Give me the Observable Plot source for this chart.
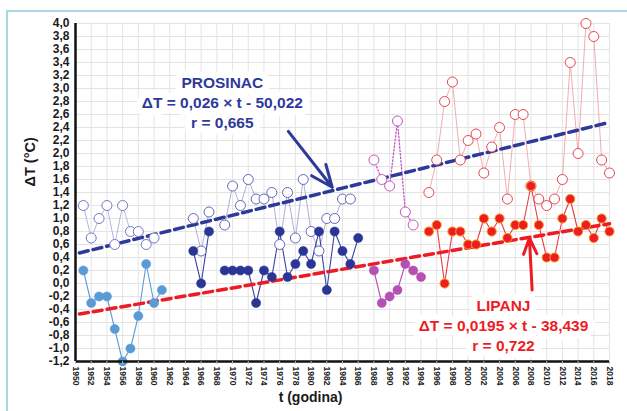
<!DOCTYPE html>
<html><head><meta charset="utf-8">
<script src="https://cdn.jsdelivr.net/npm/d3@7"></script>
<script src="https://cdn.jsdelivr.net/npm/@observablehq/plot@0.6"></script>
<style>
body{margin:0;background:#fff;}
#wrap{position:relative;width:627px;height:411px;overflow:hidden;background:#fff;}
#frame{position:absolute;left:6px;top:10px;right:-4px;bottom:-4px;border-top:2px solid #a9d8e3;border-left:2px solid #a9d8e3;}
#chart{position:absolute;left:0;top:0;}
</style></head>
<body><div id="wrap"><div id="frame"></div><div id="chart"></div></div>
<script>
// ---- data ----
const years = [1951,1952,1953,1954,1955,1956,1957,1958,1959,1960,1961,
  1965,1966,1967,
  1969,1970,1971,1972,1973,1974,1975,1976,1977,1978,1979,1980,1981,1982,1983,1984,1985,1986,
  1988,1989,1990,1991,1992,1993,1994,
  1995,1996,1997,1998,1999,2000,2001,2002,2003,2004,2005,2006,2007,2008,2009,2010,2011,2012,2013,2014,2015,2016,2017,2018];
// LIPANJ (June) – filled markers
const june = [0.2,-0.3,-0.2,-0.2,-0.7,-1.2,-1.0,-0.5,0.3,-0.3,-0.1,
  0.5,0.0,0.8,
  0.2,0.2,0.2,0.2,-0.3,0.2,0.1,0.8,0.1,0.3,0.5,0.3,0.8,-0.1,0.8,0.5,0.3,0.7,
  0.2,-0.3,-0.2,-0.1,0.3,0.2,0.1,
  0.8,0.9,0.0,0.8,0.8,0.6,0.6,1.0,0.8,1.0,0.7,0.9,0.9,1.5,0.9,0.4,0.4,1.0,1.3,0.8,0.9,0.7,1.0,0.8];
// PROSINAC (December) – open markers
const december = [1.2,0.7,1.0,1.2,0.6,1.2,0.8,0.8,0.6,0.7,null,
  1.0,0.5,1.1,
  0.9,1.5,1.2,1.6,1.3,1.3,1.4,0.6,1.4,0.7,1.6,0.8,0.5,1.0,1.0,1.3,1.3,null,
  1.9,1.6,1.5,2.5,1.1,0.9,null,
  1.4,1.9,2.8,3.1,1.9,2.2,2.3,1.7,2.1,2.4,1.3,2.6,2.6,1.5,1.3,1.2,1.3,1.6,3.4,2.0,4.0,3.8,1.9,1.7];
// trend lines (end points as drawn)
const trendYears = [1950.5, 2018];
const decemberTrend = [0.47, 2.48];
const juneTrend = [-0.47, 0.92];
// ticks
const xTicks = [1950,1952,1954,1956,1958,1960,1962,1964,1966,1968,1970,1972,1974,1976,1978,1980,1982,1984,1986,1988,1990,1992,1994,1996,1998,2000,2002,2004,2006,2008,2010,2012,2014,2016,2018];
const yTicks = [-1.2,-1.0,-0.8,-0.6,-0.4,-0.2,0.0,0.2,0.4,0.6,0.8,1.0,1.2,1.4,1.6,1.8,2.0,2.2,2.4,2.6,2.8,3.0,3.2,3.4,3.6,3.8,4.0];
// annotations
const notes = [
  {name:"PROSINAC", x:1968.7, y:2.80, text:"PROSINAC\nΔT = 0,026 × t - 50,022\nr = 0,665"},
  {name:"LIPANJ", x:2004.5, y:-0.63, text:"LIPANJ\nΔT = 0,0195 × t - 38,439\nr = 0,722"}
];
const arrows = [
  {name:"PROSINAC", x1:1977.1, y1:2.34, x2:1982.7, y2:1.48},
  {name:"LIPANJ", x1:2008.15, y1:-0.10, x2:2007.8, y2:0.70}
];

// ---- styles ----
const periodOf = y => y <= 1961 ? "a" : y <= 1986 ? "b" : y <= 1994 ? "c" : "d";
const segmentOf = y => y <= 1961 ? "a" : y <= 1967 ? "b1" : y <= 1986 ? "b2" : y <= 1994 ? "c" : "d";
const style = {
  a: {fill:"#5b9bd5", fillLine:"#5b9bd5", open:"#6f78c4", openLine:"#a9aedb", dash:null},
  b: {fill:"#2b3595", fillLine:"#3a43a3", open:"#6167bb", openLine:"#a3a7d6", dash:null},
  c: {fill:"#b44fb3", fillLine:"#b44fb3", open:"#c257c2", openLine:"#c257c2", dash:"1.5,2"},
  d: {fill:"#ee1c25", fillLine:"#ea3b42", open:"#e3474f", openLine:"#f0a3a7", dash:null}
};
const blue = "#2e3a9a", red = "#ed1c24";
const font = "'Liberation Sans', Arial, sans-serif";

const rows = years.map((year, i) => ({year, june: june[i], december: december[i], period: periodOf(year), segment: segmentOf(year)}));
const trend = trendYears.map((year, i) => ({year, december: decemberTrend[i], june: juneTrend[i]}));

const marks = [
  Plot.gridX(xTicks, {stroke:"#e4e4e4", strokeOpacity:1}),
  Plot.gridY(yTicks, {stroke:"#e4e4e4", strokeOpacity:1})
];
for (const p of ["a","b","c","d"]) {
  const s = style[p];
  const dec = rows.filter(d => d.period === p && d.december != null);
  marks.push(Plot.line(dec, {x:"year", y:"december", z:"segment", stroke:s.openLine, strokeWidth: p === "c" ? 1.3 : 0.9, strokeDasharray: s.dash}));
}
for (const p of ["a","b","c","d"]) {
  const s = style[p];
  const jun = rows.filter(d => d.period === p);
  marks.push(Plot.line(jun, {x:"year", y:"june", z:"segment", stroke:s.fillLine, strokeWidth:1.1}));
}
marks.push(
  Plot.line(trend, {x:"year", y:"december", stroke:blue, strokeWidth:3.5, strokeDasharray:"9,5"}),
  Plot.line(trend, {x:"year", y:"june", stroke:red, strokeWidth:3.5, strokeDasharray:"9,5"})
);
for (const p of ["a","b","c","d"]) {
  const s = style[p];
  const dec = rows.filter(d => d.period === p && d.december != null);
  marks.push(Plot.dot(dec, {x:"year", y:"december", r:5, stroke:s.open, strokeWidth:1, fill:"white"}));
}
for (const p of ["a","b","c","d"]) {
  const s = style[p];
  const jun = rows.filter(d => d.period === p);
  marks.push(Plot.dot(jun, {x:"year", y:"june", r:4.6, fill:s.fill, stroke: p === "d" ? "#f6a01a" : s.fill, strokeWidth: p === "d" ? 1 : 0.5}));
}
marks.push(
  Plot.text(notes, {x:"x", y:"y", text:"text", fill: d => d.name === "PROSINAC" ? blue : red, stroke:"white", strokeWidth:14, strokeLinejoin:"round", fontSize:15.5, fontWeight:"bold", lineHeight:1.28, fontFamily:font}),
  Plot.arrow(arrows, {x1:"x1", y1:"y1", x2:"x2", y2:"y2", stroke: d => d.name === "PROSINAC" ? blue : red, strokeWidth:3, headLength:13, headAngle:45}),
  Plot.ruleY([-1.2], {stroke:"#111", strokeWidth:2.5}),
  Plot.ruleX([1950], {stroke:"#111", strokeWidth:2.5}),
  Plot.axisY(yTicks, {tickSize:0, tickPadding:6, tickFormat: d => d.toFixed(1).replace(".", ","), fontSize:12, fontWeight:"bold", fill:"#1a1a1a", label:null}),
  Plot.axisX(xTicks, {tickRotate:90, tickSize:3, tickPadding:2, tickFormat: d => String(d), fontSize:8.5, fontWeight:"bold", fill:"#222", stroke:"#bbb", label:null}),
  Plot.text(["ΔT (°C)"], {frameAnchor:"left", dx:-45, dy:-6, rotate:-90, fontSize:14.5, fontWeight:"bold", fill:"#1a1a1a", fontFamily:font}),
  Plot.text(["t (godina)"], {frameAnchor:"bottom", dx:-32, dy:40, fontSize:14, fontWeight:"bold", fill:"#1a1a1a", fontFamily:font})
);

const chart = Plot.plot({
  width:627, height:411,
  marginLeft:75, marginRight:18, marginTop:23, marginBottom:50,
  style:{fontFamily:font, background:"transparent", overflow:"visible"},
  x:{domain:[1950,2018]},
  y:{domain:[-1.2,4.0]},
  marks
});
document.getElementById("chart").appendChild(chart);
</script>
</body></html>
